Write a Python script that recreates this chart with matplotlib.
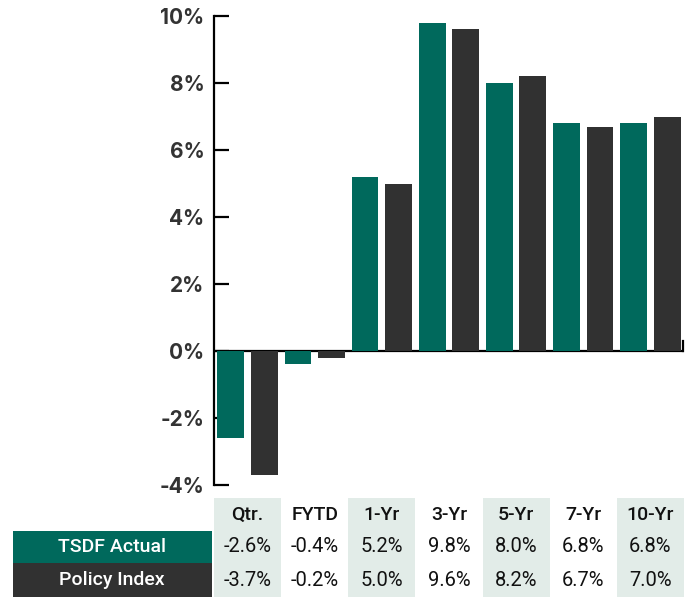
import matplotlib.pyplot as plt
import matplotlib.transforms as mtransforms
from matplotlib.patches import Rectangle
import numpy as np

periods = ["Qtr.", "FYTD", "1-Yr", "3-Yr", "5-Yr", "7-Yr", "10-Yr"]
tsdf_actual = [-2.6, -0.4, 5.2, 9.8, 8.0, 6.8, 6.8]
policy_index = [-3.7, -0.2, 5.0, 9.6, 8.2, 6.7, 7.0]
series_names = ["TSDF Actual", "Policy Index"]
yticks = [-4, -2, 0, 2, 4, 6, 8, 10]

TEAL = "#00695c"
DARK = "#313131"
SHADE = "#e2ece8"

W, H = 691, 597
fig = plt.figure(figsize=(W / 100, H / 100), dpi=100)
ax = fig.add_axes([214 / W, (H - 485) / H, (684 - 214) / W, (485 - 16) / H])

x = np.arange(len(periods))
ax.bar(x - 0.25, tsdf_actual, width=0.4, color=TEAL, zorder=2)
ax.bar(x + 0.25, policy_index, width=0.4, color=DARK, zorder=2)

ax.set_xlim(-0.5, len(periods) - 0.5)
ax.set_ylim(-4, 10)
ax.axhline(0, color="black", lw=1.6, zorder=1)
ax.plot([len(periods) - 0.52] * 2, [0, 0.3], color="black", lw=1.6, clip_on=False)

for s in ["top", "right", "bottom"]:
    ax.spines[s].set_visible(False)
ax.spines["left"].set_linewidth(1.6)
ax.set_xticks([])
ax.set_yticks(yticks)
ax.set_yticklabels([f"{v}%" for v in yticks], fontfamily="Inter", fontweight="bold",
                   fontsize=15, color="#333333")
ax.tick_params(axis="y", direction="in", length=11, width=1.6, pad=7)

# table under the chart: x in data units, y in figure fraction
trans = mtransforms.blended_transform_factory(ax.transData, fig.transFigure)
rows_top = [(H - 498) / H, (H - 531) / H, (H - 563) / H, 0.0]
centers = [(rows_top[i] + rows_top[i + 1]) / 2 for i in range(3)]

for i in range(0, len(periods), 2):
    fig.patches.append(Rectangle((i - 0.5, 0), 1, rows_top[0], transform=trans,
                                 facecolor=SHADE, edgecolor="none", zorder=0))

label_colors = [TEAL, DARK]
for r, name in enumerate(series_names):
    y0 = rows_top[r + 2]
    fig.patches.append(Rectangle((13 / W, y0), (212 - 13) / W, rows_top[r + 1] - y0,
                                 transform=fig.transFigure, facecolor=label_colors[r],
                                 edgecolor="none", zorder=0))
    fig.text(112 / W, centers[r + 1], name, ha="center", va="center", color="white",
             fontsize=14, fontfamily="Roboto", fontweight="medium")

for i, p in enumerate(periods):
    fig.text(i, centers[0], p, transform=trans, ha="center", va="center",
             fontsize=14, fontfamily="Roboto", fontweight="medium", color="#111111")
    for r, vals in enumerate([tsdf_actual, policy_index]):
        fig.text(i, centers[r + 1], f"{vals[i]:.1f}%", transform=trans, ha="center",
                 va="center", fontsize=14.5, fontfamily="Roboto", color="#111111")

fig.savefig("out.png", dpi=100)
